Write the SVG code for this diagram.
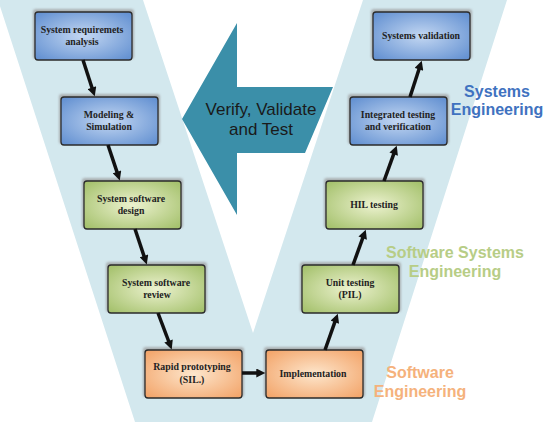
<svg xmlns="http://www.w3.org/2000/svg" width="545" height="422" viewBox="0 0 545 422">
<defs>
<radialGradient id="gBlue" cx="50%" cy="50%" r="65%">
<stop offset="0" stop-color="#c3d7f2"/><stop offset="1" stop-color="#6592d2"/>
</radialGradient>
<radialGradient id="gGreen" cx="50%" cy="50%" r="65%">
<stop offset="0" stop-color="#ecf2cf"/><stop offset="1" stop-color="#a6c26e"/>
</radialGradient>
<radialGradient id="gOrange" cx="50%" cy="50%" r="65%">
<stop offset="0" stop-color="#fde6cc"/><stop offset="1" stop-color="#f3a66c"/>
</radialGradient>
<filter id="sh" x="-20%" y="-30%" width="140%" height="160%">
<feGaussianBlur stdDeviation="1.3"/>
</filter>
<marker id="ah" viewBox="0 0 10 10" markerUnits="userSpaceOnUse" markerWidth="10" markerHeight="9" refX="3" refY="5" orient="auto">
<path d="M0,0 L10,5 L0,10 z" fill="#111"/>
</marker>
<style>
.box{stroke:#2b2b2b;stroke-width:1.3}
.shadow{fill:#9a9a9a;filter:url(#sh);opacity:0.7}
.bt{font-family:"Liberation Serif","Times New Roman",serif;font-weight:bold;font-size:9.8px;fill:#222;text-anchor:middle}
.conn line{stroke:#111;stroke-width:3.5;marker-end:url(#ah)}
.lbl{font-family:"Liberation Sans",Arial,sans-serif;font-weight:bold;font-size:16px;text-anchor:middle}
</style>
</defs>
<rect width="545" height="422" fill="#ffffff"/>
<g id="vshape">
<polygon points="-2,0 143,0 253,333 363,0 507,0 372,422 135,422" fill="#d3e8ee"/>
</g>
<g id="vvt">
<polygon points="182,119 237,23 237,87 333,87 305,153 237,153 237,215" fill="#3b8fa9"/>
<text x="261" y="115" font-family="'Liberation Sans',Arial,sans-serif" font-size="17" fill="#1a1a1a" text-anchor="middle">Verify, Validate</text>
<text x="261" y="135" font-family="'Liberation Sans',Arial,sans-serif" font-size="17" fill="#1a1a1a" text-anchor="middle">and Test</text>
</g>
<g id="n1">
<rect class="shadow" x="33" y="9" width="101" height="50" rx="3"/>
<rect class="box" x="35" y="12" width="97" height="48" rx="3" fill="url(#gBlue)"/>
<text class="bt" x="82" y="33">System requiremets</text>
<text class="bt" x="82" y="45">analysis</text>
</g>
<g id="n2">
<rect class="shadow" x="59" y="94" width="101" height="50" rx="3"/>
<rect class="box" x="61" y="97" width="97" height="48" rx="3" fill="url(#gBlue)"/>
<text class="bt" x="109" y="118">Modeling &amp;</text>
<text class="bt" x="109" y="130">Simulation</text>
</g>
<g id="n3">
<rect class="shadow" x="82" y="178" width="101" height="50" rx="3"/>
<rect class="box" x="84" y="181" width="97" height="48" rx="3" fill="url(#gGreen)"/>
<text class="bt" x="131" y="202">System software</text>
<text class="bt" x="131" y="214">design</text>
</g>
<g id="n4">
<rect class="shadow" x="106" y="262" width="101" height="50" rx="3"/>
<rect class="box" x="108" y="265" width="97" height="48" rx="3" fill="url(#gGreen)"/>
<text class="bt" x="156" y="286">System software</text>
<text class="bt" x="157" y="298">review</text>
</g>
<g id="n5">
<rect class="shadow" x="143" y="347" width="101" height="50" rx="3"/>
<rect class="box" x="145" y="350" width="97" height="48" rx="3" fill="url(#gOrange)"/>
<text class="bt" x="192" y="370">Rapid prototyping</text>
<text class="bt" x="192" y="383" font-weight="normal">(SIL.)</text>
</g>
<g id="n6">
<rect class="shadow" x="264" y="347" width="101" height="50" rx="3"/>
<rect class="box" x="266" y="350" width="97" height="48" rx="3" fill="url(#gOrange)"/>
<text class="bt" x="313" y="377">Implementation</text>
</g>
<g id="n7">
<rect class="shadow" x="300" y="262" width="101" height="50" rx="3"/>
<rect class="box" x="302" y="265" width="97" height="48" rx="3" fill="url(#gGreen)"/>
<text class="bt" x="350" y="286">Unit testing</text>
<text class="bt" x="350" y="298">(PIL)</text>
</g>
<g id="n8">
<rect class="shadow" x="324" y="178" width="101" height="50" rx="3"/>
<rect class="box" x="326" y="181" width="97" height="48" rx="3" fill="url(#gGreen)"/>
<text class="bt" x="374" y="208">HIL testing</text>
</g>
<g id="n9">
<rect class="shadow" x="348" y="94" width="101" height="50" rx="3"/>
<rect class="box" x="350" y="97" width="97" height="48" rx="3" fill="url(#gBlue)"/>
<text class="bt" x="398" y="118">Integrated testing</text>
<text class="bt" x="398" y="130">and verification</text>
</g>
<g id="n10">
<rect class="shadow" x="371" y="9" width="101" height="50" rx="3"/>
<rect class="box" x="373" y="12" width="97" height="48" rx="3" fill="url(#gBlue)"/>
<text class="bt" x="421" y="39">Systems validation</text>
</g>
<g id="connectors" class="conn">
<line x1="83" y1="60" x2="92.8" y2="90.3"/>
<line x1="108" y1="145" x2="117.8" y2="174.4"/>
<line x1="135" y1="229" x2="144.8" y2="258.4"/>
<line x1="158" y1="313" x2="169.5" y2="343.5"/>
<line x1="242" y1="373" x2="259" y2="373"/>
<line x1="325" y1="350" x2="335.7" y2="319.6"/>
<line x1="353" y1="265" x2="363.6" y2="235.6"/>
<line x1="384" y1="181" x2="394.6" y2="151.6"/>
<line x1="410" y1="97" x2="419.8" y2="66.7"/>
</g>
<g id="labels">
<text class="lbl" x="497" y="97" fill="#3f72c0">Systems</text>
<text class="lbl" x="497" y="115" fill="#3f72c0">Engineering</text>
<text class="lbl" x="455" y="258" fill="#b7cd86" font-size="15.5">Software Systems</text>
<text class="lbl" x="455" y="277" fill="#b7cd86">Engineering</text>
<text class="lbl" x="420" y="378" fill="#f5b27c">Software</text>
<text class="lbl" x="420" y="397" fill="#f5b27c">Engineering</text>
</g>
</svg>
